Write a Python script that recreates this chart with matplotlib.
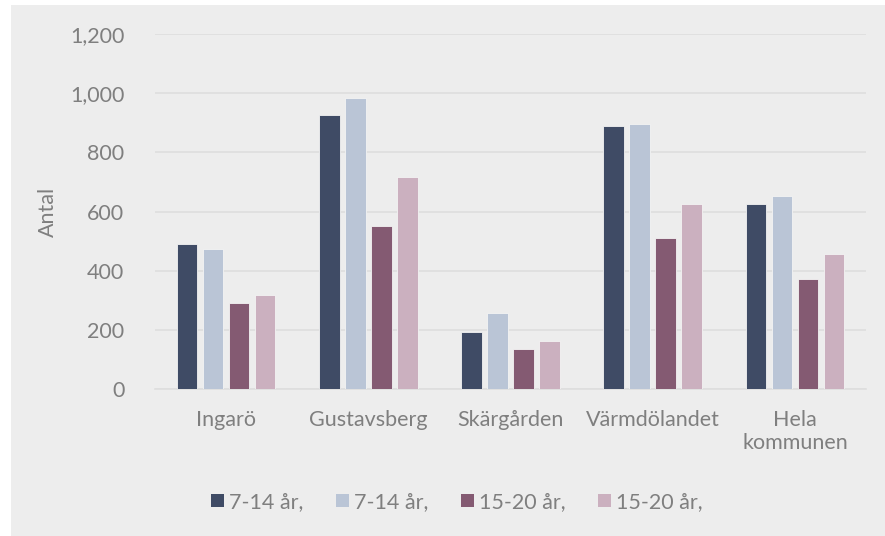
import numpy as np
import matplotlib.pyplot as plt
import matplotlib
from matplotlib.patches import Rectangle

matplotlib.use('Agg')
plt.rcParams['font.family'] = ['Lato', 'DejaVu Sans']

# data
areas = ['Ingarö', 'Gustavsberg', 'Skärgården', 'Värmdölandet', 'Hela\nkommunen']
series_names = ['7-14 år,', '7-14 år,', '15-20 år,', '15-20 år,']
boys_7_14 = [489, 925, 192, 890, 625]
girls_7_14 = [472, 985, 257, 895, 652]
boys_15_20 = [290, 550, 134, 510, 372]
girls_15_20 = [317, 717, 163, 625, 457]
yticks = [0, 200, 400, 600, 800, 1000, 1200]

colors = ['#3f4b65', '#bac5d6', '#845a72', '#cbb0bf']
text_col = '#7f7f7f'
bg = '#ededed'

fig = plt.figure(figsize=(8.85, 5.36), dpi=100)
fig.patch.set_facecolor('white')
fig.patches.append(Rectangle((11 / 885, 0), 1, (536 - 5) / 536,
                             transform=fig.transFigure, facecolor=bg,
                             edgecolor='none', zorder=-10))

ax = fig.add_axes([155 / 885, (536 - 389) / 536, 711 / 885, 355 / 536])
ax.set_facecolor(bg)

x = np.arange(len(areas))
step = 0.183
width = 0.145
all_series = [boys_7_14, girls_7_14, boys_15_20, girls_15_20]
for i, vals in enumerate(all_series):
    ax.bar(x + (i - 1.5) * step, vals, width, color=colors[i],
           edgecolor='#f4f4f4', linewidth=0.6, label=series_names[i], zorder=3)

ax.set_xlim(-0.5, len(areas) - 0.5)
ax.set_ylim(0, 1200)
ax.set_yticks(yticks)
ax.set_yticklabels(['{:,}'.format(v) for v in yticks])
ax.set_xticks(x)
ax.set_xticklabels(areas, linespacing=1.2)
ax.yaxis.grid(True, color='#dedede', linewidth=1.2, zorder=0)
ax.set_axisbelow(True)
for s in ax.spines.values():
    s.set_visible(False)
ax.tick_params(axis='both', length=0, colors=text_col, labelsize=15.5)
ax.tick_params(axis='y', pad=22)
ax.tick_params(axis='x', pad=15)
ax.axhline(0, color='#dedede', linewidth=1.2, zorder=1, clip_on=False)

ax.set_ylabel('Antal', color=text_col, fontsize=15.5)
ax.yaxis.set_label_coords((58 - 155) / 711, 0.5)

leg = fig.legend(loc='center', bbox_to_anchor=(457 / 885, (536 - 502) / 536),
                 ncol=4, frameon=False, fontsize=15.5, handlelength=0.6,
                 handleheight=0.6, handletextpad=0.25, columnspacing=1.5)
for t in leg.get_texts():
    t.set_color(text_col)
for h in leg.legend_handles:
    h.set_edgecolor('none')

fig.savefig('out.png', dpi=100, facecolor=fig.get_facecolor())
